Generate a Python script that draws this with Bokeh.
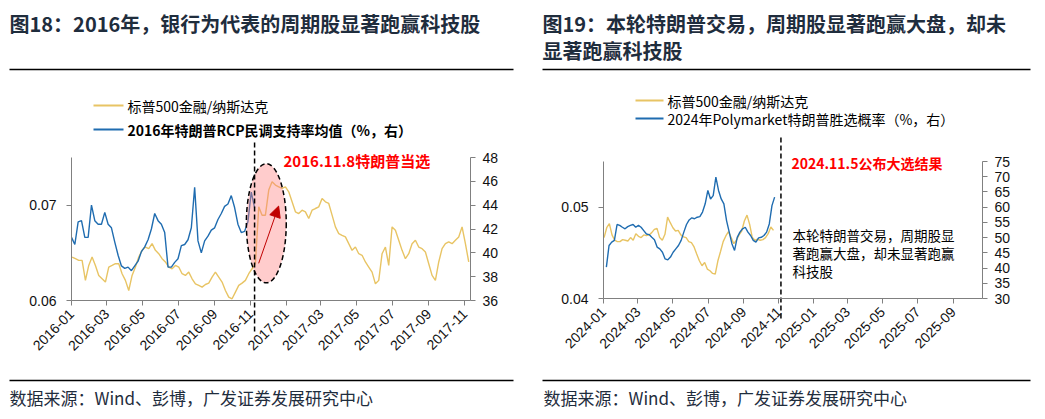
import math
import pandas as pd
from bokeh.plotting import figure
from bokeh.models import (Range1d, LinearAxis, DatetimeAxis, FixedTicker, DatetimeTickFormatter,
                          PrintfTickFormatter, Label, Arrow, NormalHead)
from bokeh.layouts import row
from bokeh.embed import file_html
from bokeh.resources import INLINE

# ---------------- data ----------------
gold16_start, gold16_end = "2016-01-02", "2017-11-08"
gold16 = [0.06456, 0.06439, 0.06421, 0.06421, 0.06211, 0.06368, 0.06456, 0.06368, 0.06263, 0.06228,
          0.06193, 0.06351, 0.06368, 0.06386, 0.06386, 0.06281, 0.06211, 0.06105, 0.06263, 0.06351,
          0.06456, 0.06526, 0.06561, 0.06544, 0.06596, 0.06526, 0.06491, 0.06439, 0.06404, 0.06351,
          0.06333, 0.06368, 0.06351, 0.06281, 0.06263, 0.06298, 0.06228, 0.06175, 0.06158, 0.06140,
          0.06168, 0.06182, 0.06246, 0.06298, 0.06246, 0.06193, 0.06105, 0.06035, 0.06018, 0.06088,
          0.06158, 0.06182, 0.06211, 0.06281, 0.06333, 0.06386, 0.06982, 0.06895, 0.06895, 0.07158,
          0.07246, 0.07211, 0.07193, 0.07175, 0.07193, 0.07140, 0.07035, 0.06930, 0.06912, 0.06947,
          0.06930, 0.06860, 0.06947, 0.06965, 0.06982, 0.07070, 0.07035, 0.07018, 0.06895, 0.06772,
          0.06702, 0.06684, 0.06667, 0.06596, 0.06526, 0.06561, 0.06491, 0.06474, 0.06404, 0.06351,
          0.06298, 0.06175, 0.06211, 0.06491, 0.06561, 0.06368, 0.06772, 0.06737, 0.06632, 0.06526,
          0.06439, 0.06491, 0.06596, 0.06632, 0.06561, 0.06544, 0.06509, 0.06386, 0.06263, 0.06211,
          0.06404, 0.06544, 0.06596, 0.06614, 0.06596, 0.06632, 0.06667, 0.06772, 0.06596, 0.06404]

poll16_start, poll16_end = "2016-01-01", "2016-11-08"
poll16 = [41.3, 40.7, 42.6, 42.7, 41.3, 41.3, 44.0, 42.7, 42.4, 42.4,
          43.4, 42.4, 42.1, 40.9, 39.8, 38.9, 38.7, 38.8, 38.5, 38.9,
          39.3, 40.1, 40.5, 41.1, 42.0, 43.3, 42.7, 42.4, 41.7, 38.8,
          38.8, 39.2, 39.5, 40.6, 40.7, 41.1, 42.1, 45.5, 41.0, 40.0,
          41.0, 41.4, 41.9, 42.1, 42.8, 43.3, 43.9, 44.1, 44.8, 43.8,
          42.4, 41.7, 41.8, 42.6, 45.1, 43.8]

gold24_start, gold24_end = "2024-01-02", "2024-10-23"
gold24 = [0.04667, 0.04775, 0.04819, 0.04696, 0.04638, 0.04623, 0.04623, 0.04645, 0.04638, 0.04630,
          0.04667, 0.04638, 0.04710, 0.04681, 0.04667, 0.04696, 0.04688, 0.04696, 0.04721, 0.04757,
          0.04768, 0.04667, 0.04638, 0.04703, 0.04891, 0.04830, 0.04775, 0.04739, 0.04746, 0.04696,
          0.04674, 0.04667, 0.04623, 0.04612, 0.04565, 0.04486, 0.04413, 0.04359, 0.04395, 0.04322,
          0.04304, 0.04275, 0.04268, 0.04413, 0.04514, 0.04623, 0.04685, 0.04732, 0.04667, 0.04601,
          0.04638, 0.04696, 0.04739, 0.04848, 0.04913, 0.04812, 0.04667, 0.04638, 0.04649, 0.04638,
          0.04645, 0.04667, 0.04710, 0.04783, 0.04746]

poly24_start, poly24_end = "2024-01-06", "2024-10-25"
poly24 = [40.3, 47.4, 48.5, 49.1, 54.3, 54.0, 53.4, 52.9, 53.6, 54.0,
          54.3, 53.4, 54.0, 53.4, 52.3, 51.2, 51.0, 50.1, 49.3, 46.9,
          46.3, 45.2, 43.0, 42.7, 43.6, 45.2, 46.3, 47.4, 49.1, 51.8,
          54.3, 55.8, 56.5, 56.2, 56.7, 56.9, 58.4, 61.1, 65.5, 62.7,
          63.8, 69.9, 65.5, 62.7, 61.1, 55.6, 51.8, 48.0, 45.8, 50.1,
          51.8, 52.9, 53.4, 51.8, 50.7, 49.1, 48.5, 49.9, 50.1, 50.7,
          51.8, 54.5, 60.5, 63.3]

ticks16 = ["2016-01-01", "2016-03-01", "2016-05-01", "2016-07-01", "2016-09-01", "2016-11-01",
           "2017-01-01", "2017-03-01", "2017-05-01", "2017-07-01", "2017-09-01", "2017-11-01"]
ticks24 = ["2024-01-01", "2024-03-01", "2024-05-01", "2024-07-01", "2024-09-01", "2024-11-01",
           "2025-01-01", "2025-03-01", "2025-05-01", "2025-07-01", "2025-09-01"]
left16_ticks = [0.06, 0.07]
right16_ticks = [36, 38, 40, 42, 44, 46, 48]
left24_ticks = [0.04, 0.05]
right24_ticks = [30, 35, 40, 45, 50, 55, 60, 65, 70, 75]

title1 = "图18：2016年，银行为代表的周期股显著跑赢科技股"
title2a = "图19：本轮特朗普交易，周期股显著跑赢大盘，却未"
title2b = "显著跑赢科技股"
leg_gold = "标普500金融/纳斯达克"
leg_poll16 = "2016年特朗普RCP民调支持率均值（%，右）"
leg_poly24 = "2024年Polymarket特朗普胜选概率（%，右）"
note16 = "2016.11.8特朗普当选"
note24 = "2024.11.5公布大选结果"
comment24 = ["本轮特朗普交易，周期股显", "著跑赢大盘，却未显著跑赢", "科技股"]
source = "数据来源：Wind、彭博，广发证券发展研究中心"
event16 = "2016-11-08"
event24 = "2024-11-05"

GOLD = "#E8C464"
BLUE = "#1F6CB0"
NAVY = "#1f2d3d"
CJK = "Noto Sans CJK SC"
LAT = "Liberation Sans"
H = 416


def ms(d):
    return pd.Timestamp(d).value / 1e6


def dates(a, b, n):
    return pd.date_range(pd.Timestamp(a), pd.Timestamp(b), periods=n)


class Panel:
    """Figure whose frame fills the canvas; the chart area is a sub-rectangle
    (page pixel box) on which the axes are pinned via fixed_location/bounds."""

    def __init__(self, canvas_left, width, box, xr, yr, rr, xticks, lticks, rticks):
        self.box = box  # left, top, right, bottom in page pixels
        self.xa, self.xb = ms(xr[0]), ms(xr[1])
        self.yr, self.rr = yr, rr
        p = figure(width=width, height=H, x_axis_type=None, y_axis_type=None,
                   x_range=Range1d(self.fx(canvas_left), self.fx(canvas_left + width)),
                   y_range=Range1d(self.fy(H), self.fy(0)),
                   output_backend="svg", toolbar_location=None,
                   min_border=0, min_border_left=0, min_border_right=0,
                   min_border_top=0, min_border_bottom=0)
        p.outline_line_color = None
        p.grid.visible = False
        p.background_fill_color = "white"
        p.border_fill_color = "white"
        p.extra_y_ranges = {"r": Range1d(self.gy(H), self.gy(0))}

        xax = DatetimeAxis(ticker=FixedTicker(ticks=[ms(t) for t in xticks]),
                           formatter=DatetimeTickFormatter(years="%Y-%m", months="%Y-%m",
                                                           days="%Y-%m", hours="%Y-%m"),
                           fixed_location=yr[0], bounds=(self.xa, self.xb))
        xax.major_label_orientation = math.pi / 4
        self.style(xax, 6, "14px")
        p.add_layout(xax, "below")

        lax = LinearAxis(ticker=FixedTicker(ticks=lticks),
                         formatter=PrintfTickFormatter(format="%.2f"),
                         fixed_location=self.xa, bounds=yr)
        self.style(lax, 10, "14px")
        p.add_layout(lax, "left")

        rax = LinearAxis(y_range_name="r", ticker=FixedTicker(ticks=rticks),
                         fixed_location=self.xb, bounds=rr)
        self.style(rax, 7, "14px")
        p.add_layout(rax, "right")
        self.p = p

    @staticmethod
    def style(ax, standoff, size):
        ax.axis_line_color = "#808080"
        ax.axis_line_width = 1
        ax.major_tick_line_color = "#808080"
        ax.major_tick_out = 5
        ax.major_tick_in = 0
        ax.minor_tick_line_color = None
        ax.major_label_text_font = LAT
        ax.major_label_text_font_size = size
        ax.major_label_text_color = "#111111"
        ax.major_label_standoff = standoff

    # page pixel -> data
    def fx(self, px):
        L, T, R, B = self.box
        return self.xa + (px - L) / (R - L) * (self.xb - self.xa)

    def fy(self, py):
        L, T, R, B = self.box
        return self.yr[0] + (B - py) / (B - T) * (self.yr[1] - self.yr[0])

    def gy(self, py):
        L, T, R, B = self.box
        return self.rr[0] + (B - py) / (B - T) * (self.rr[1] - self.rr[0])

    def text(self, px, py, s, size, bold=False, color="#000000", font=CJK):
        self.p.add_layout(Label(x=self.fx(px), y=self.fy(py), text=s, text_font=font,
                                text_font_size=size,
                                text_font_style="bold" if bold else "normal",
                                text_color=color, text_align="left", text_baseline="middle"))

    def hline(self, x0, x1, y, color="#000000", width=1.5):
        self.p.segment(x0=[self.fx(x0)], y0=[self.fy(y)], x1=[self.fx(x1)], y1=[self.fy(y)],
                       line_color=color, line_width=width)

    def vdash(self, date, y0, y1):
        self.p.segment(x0=[ms(date)], y0=[self.fy(y0)], x1=[ms(date)], y1=[self.fy(y1)],
                       line_color="black", line_width=1.5, line_dash="5 3")


# ---------------- figure 1 ----------------
P1 = Panel(0, 520, (71, 157, 470, 300), ("2016-01-01", "2017-11-11"), (0.06, 0.075), (36, 48),
           ticks16, left16_ticks, right16_ticks)
p1 = P1.p
p1.line(dates(gold16_start, gold16_end, len(gold16)), gold16, line_color=GOLD, line_width=1.4)
p1.line(dates(poll16_start, poll16_end, len(poll16)), poll16, line_color=BLUE, line_width=1.4,
        y_range_name="r")
p1.ellipse(x=[ms("2016-11-28")], y=[0.0681], width=68 * 86400000, height=0.0125,
           fill_color="#ff7f7f", fill_alpha=0.4, line_color="black", line_dash="5 3",
           line_width=1.5)
p1.add_layout(Arrow(end=NormalHead(size=11, fill_color="#c00000", line_color="#c00000"),
                    x_start=ms("2016-11-15"), y_start=0.0639,
                    x_end=ms("2016-12-19"), y_end=0.0699,
                    line_color="#c00000", line_width=1))
P1.vdash(event16, 142, 332)

P1.text(9, 23, title1, "20px", bold=True, color=NAVY)
P1.hline(9, 513, 69)
P1.hline(93, 123, 105, color=GOLD, width=2)
P1.hline(93, 123, 129, color=BLUE, width=2)
P1.text(127, 105, leg_gold, "14px")
P1.text(127, 129, leg_poll16, "14px", bold=True)
P1.text(283, 160, note16, "15px", bold=True, color="#ff0000")
P1.hline(9, 513, 380)
P1.text(9, 397, source, "17px", color=NAVY)

# ---------------- figure 2 ----------------
P2 = Panel(520, 520, (603, 161, 982, 298), ("2024-01-01", "2025-10-22"), (0.04, 0.055), (30, 75),
           ticks24, left24_ticks, right24_ticks)
p2 = P2.p
p2.line(dates(gold24_start, gold24_end, len(gold24)), gold24, line_color=GOLD, line_width=1.4)
p2.line(dates(poly24_start, poly24_end, len(poly24)), poly24, line_color=BLUE, line_width=1.4,
        y_range_name="r")
P2.vdash(event24, 137, 320)

P2.text(542, 23, title2a, "20px", bold=True, color=NAVY)
P2.text(542, 50, title2b, "20px", bold=True, color=NAVY)
P2.hline(542, 1030, 69)
P2.hline(635, 663, 100, color=GOLD, width=2)
P2.hline(635, 663, 118, color=BLUE, width=2)
P2.text(667, 100, leg_gold, "14px")
P2.text(667, 118, leg_poly24, "14px")
P2.text(791, 162, note24, "14px", bold=True, color="#ff0000")
for i, s in enumerate(comment24):
    P2.text(792, 234 + 18 * i, s, "13.5px")
P2.hline(542, 1030, 380)
P2.text(543, 397, source, "17px", color=NAVY)

layout = row(p1, p2)
open("out.html", "w").write(file_html(layout, INLINE))
